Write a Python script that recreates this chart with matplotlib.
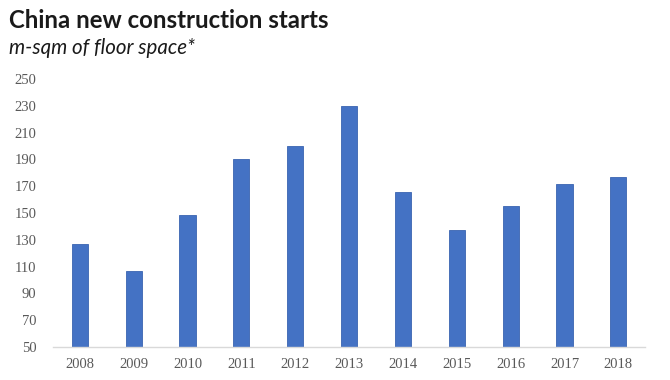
import matplotlib.pyplot as plt

years = ['2008', '2009', '2010', '2011', '2012', '2013',
         '2014', '2015', '2016', '2017', '2018']
starts = [127, 107, 148.5, 190, 200, 230, 166, 137, 155.5, 172, 177]
yticks = list(range(50, 251, 20))

fig = plt.figure(figsize=(6.7, 3.8), dpi=100)
ax = fig.add_axes([0.079, 0.087, 0.884, 0.705])

ax.bar(years, starts, width=0.3, color='#4472C4', edgecolor='#3a64b0', linewidth=0.6, zorder=2)
ax.set_ylim(50, 250)
ax.set_xlim(-0.5, len(years) - 0.5)
ax.set_yticks(yticks)

for s in ['top', 'right', 'left']:
    ax.spines[s].set_visible(False)
ax.spines['bottom'].set_color('#d9d9d9')
ax.spines['bottom'].set_linewidth(1)
ax.tick_params(axis='both', length=0, labelsize=10.5, labelcolor='#595959')
ax.tick_params(axis='x', pad=8)
ax.tick_params(axis='y', pad=12)
for lab in ax.get_xticklabels() + ax.get_yticklabels():
    lab.set_family('Liberation Serif')

fig.text(0.013, 0.925, 'China new construction starts', fontsize=17.3,
         fontweight='bold', family='Lato', color='#1a1a1a')
fig.text(0.013, 0.857, 'm-sqm of floor space*', fontsize=14.8, style='italic',
         family='Lato', color='#1a1a1a')

fig.savefig('out.png', dpi=100)
